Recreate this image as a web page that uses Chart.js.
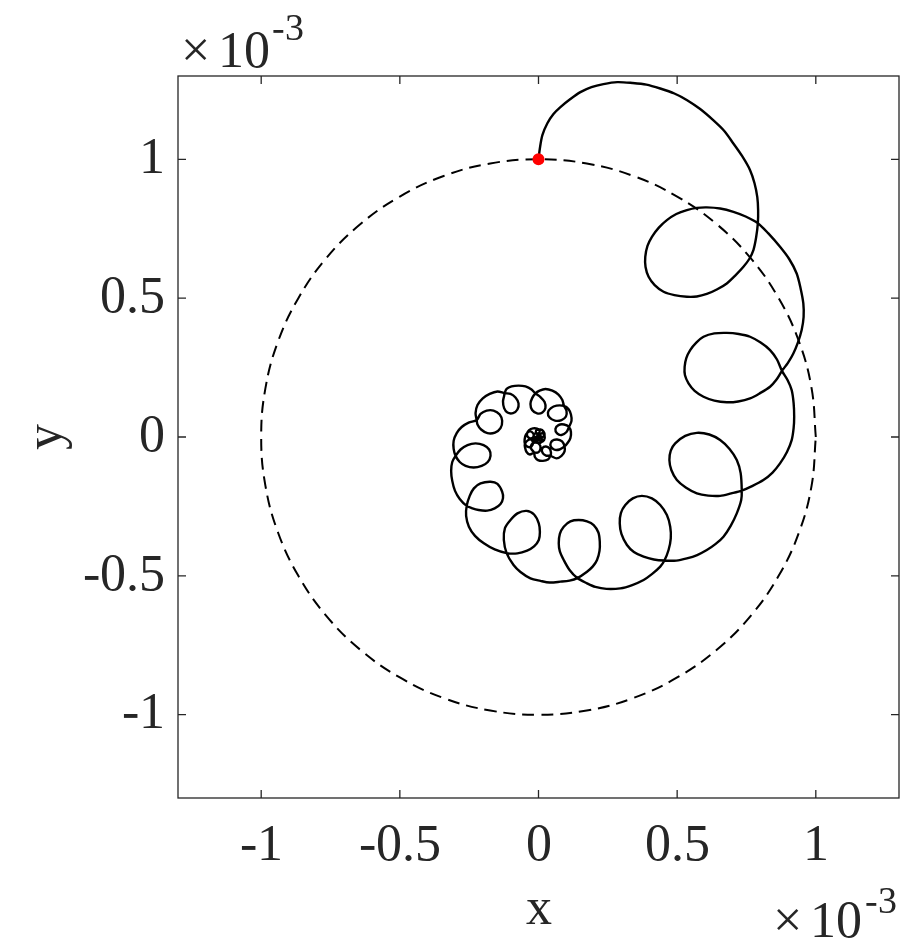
<!DOCTYPE html>
<html>
<head>
<meta charset="utf-8">
<script src="https://cdn.jsdelivr.net/npm/chart.js@4.4.0/dist/chart.umd.min.js"></script>
<style>
@font-face {
  font-family: 'RefSerif';
  src: local('Liberation Serif'), local('LiberationSerif'), local('LiberationSerif-Regular'), local('Times New Roman'), local('TimesNewRomanPSMT');
}
html,body{margin:0;padding:0;background:#ffffff;}
canvas{display:block;}
#probe{position:absolute;left:-9999px;top:0;font:52px RefSerif;}
</style>
</head>
<body>
<span id="probe">0.5 ×10 xy</span>
<canvas id="c" width="900" height="950"></canvas>
<script>
// ---------- data (values in units of 10^-3) ----------
const xTickValues = [-1, -0.5, 0, 0.5, 1];
const yTickValues = [-1, -0.5, 0, 0.5, 1];
const xTickLabels = ['-1', '-0.5', '0', '0.5', '1'];
const yTickLabels = ['-1', '-0.5', '0', '0.5', '1'];
const xAxisTitle = 'x';
const yAxisTitle = 'y';
const exponentTimes = '\u00d7';
const exponentBase = '10';
const exponentPower = '-3';
const axisRange = [-1.3, 1.3];

// reference circle (radius 1)
const circleX = [1, 0.985, 0.940, 0.866, 0.766, 0.643, 0.5, 0.342, 0.174, 0, -0.174, -0.342, -0.5, -0.643, -0.766, -0.866, -0.940, -0.985, -1, -0.985, -0.940, -0.866, -0.766, -0.643, -0.5, -0.342, -0.174, 0, 0.174, 0.342, 0.5, 0.643, 0.766, 0.866, 0.940, 0.985, 1];
const circleY = [0, 0.174, 0.342, 0.5, 0.643, 0.766, 0.866, 0.940, 0.985, 1, 0.985, 0.940, 0.866, 0.766, 0.643, 0.5, 0.342, 0.174, 0, -0.174, -0.342, -0.5, -0.643, -0.766, -0.866, -0.940, -0.985, -1, -0.985, -0.940, -0.866, -0.766, -0.643, -0.5, -0.342, -0.174, 0];

// trajectory
const pathX = [
 0, 0.005, 0.014, 0.032, 0.054, 0.079, 0.115, 0.151, 0.191, 0.234, 0.284, 0.338, 0.389, 0.439, 0.490, 0.536, 0.583, 0.630, 0.670, 0.702, 0.734, 0.763, 0.779, 0.789, 0.792, 0.791,
 0.785, 0.775, 0.760, 0.739, 0.711, 0.679, 0.643, 0.607, 0.571, 0.535, 0.490, 0.451, 0.419, 0.397, 0.386, 0.385, 0.393, 0.409, 0.434, 0.463, 0.497, 0.535, 0.571, 0.607, 0.655, 0.703, 0.747, 0.791,
 0.828, 0.871, 0.904, 0.931, 0.945, 0.955, 0.956, 0.949, 0.936, 0.919, 0.900, 0.878,
 0.857, 0.835, 0.799, 0.763, 0.720, 0.679, 0.634, 0.595, 0.563, 0.541, 0.528, 0.527, 0.533, 0.547, 0.569, 0.595, 0.634, 0.679, 0.722, 0.763, 0.801, 0.835, 0.860, 0.878,
 0.898, 0.913, 0.920, 0.922, 0.920, 0.913, 0.896, 0.871, 0.844, 0.811, 0.772, 0.733,
 0.695, 0.655, 0.612, 0.571, 0.531, 0.499, 0.479, 0.472, 0.477, 0.493, 0.529, 0.571, 0.616, 0.655, 0.689, 0.715, 0.729, 0.733,
 0.731, 0.715, 0.693, 0.667, 0.639, 0.607, 0.572, 0.535, 0.497, 0.454,
 0.416, 0.379, 0.344, 0.319, 0.299, 0.293, 0.297, 0.313, 0.340, 0.373, 0.409, 0.439, 0.463, 0.475, 0.477, 0.469, 0.454,
 0.439, 0.410, 0.379, 0.338, 0.295, 0.245, 0.205, 0.175, 0.140,
 0.112, 0.091, 0.077, 0.073, 0.077, 0.091, 0.115, 0.145, 0.175, 0.199, 0.216, 0.221, 0.220, 0.211, 0.196, 0.175, 0.140,
 0.112, 0.079, 0.040, 0.007, -0.029, -0.065, -0.090, -0.115,
 -0.125, -0.121, -0.101, -0.076, -0.043, -0.016, 0.001, 0.005, 0.001, -0.016, -0.041, -0.076, -0.115,
 -0.158, -0.197, -0.229, -0.251, -0.261, -0.259,
 -0.248, -0.233, -0.209, -0.173, -0.148, -0.131, -0.128, -0.137, -0.158, -0.185, -0.216, -0.241, -0.259,
 -0.284, -0.301, -0.311, -0.315, -0.311, -0.299,
 -0.281, -0.256, -0.227, -0.198, -0.178, -0.173, -0.183, -0.205, -0.234, -0.263, -0.284, -0.299,
 -0.306, -0.306, -0.295, -0.277, -0.252, -0.223,
 -0.209, -0.187, -0.162, -0.140, -0.131, -0.137, -0.157, -0.184, -0.207, -0.220, -0.223,
 -0.227, -0.220, -0.201, -0.176, -0.148, -0.122,
 -0.101, -0.083, -0.072, -0.076, -0.092, -0.112, -0.124, -0.128, -0.124, -0.122,
 -0.115, -0.097, -0.072, -0.047, -0.025, -0.011,
 0.007, 0.022, 0.025, 0.014, -0.005, -0.023, -0.029, -0.023, -0.011,
 0.004, 0.025, 0.050, 0.072, 0.086, 0.092,
 0.101, 0.099, 0.083, 0.059, 0.040, 0.034, 0.045, 0.065, 0.092,
 0.108, 0.117, 0.119, 0.110,
 0.101, 0.083, 0.067, 0.061, 0.072, 0.092, 0.110,
 0.117, 0.115, 0.106, 0.094,
 0.076, 0.056, 0.043, 0.049, 0.067, 0.085, 0.094,
 0.094, 0.083, 0.065, 0.043,
 0.027, 0.014, 0.014, 0.027, 0.040, 0.045, 0.043,
 0.034, 0.016, -0.002, -0.013, -0.016,
 -0.027, -0.025, -0.011, 0.004, 0.007, -0.002, -0.016,
 -0.031, -0.043, -0.049,
 -0.049, -0.040, -0.027, -0.020, -0.025, -0.038, -0.049,
 -0.050, -0.045,
 -0.032, -0.020, -0.018, -0.029, -0.040, -0.041, -0.034, -0.020,
 -0.005, 0.004, 0.000, -0.009, -0.007, 0.007, 0.018, 0.022, 0.013, 0.005, 0.013, 0.022, 0.020, 0.009, 0.004, 0.011, 0.013, 0.002, -0.011, -0.005, -0.002, -0.014, -0.020, -0.011, -0.011, -0.018, -0.014, -0.005, -0.004, 0.000, 0.007, 0.005, -0.004, -0.007, -0.002, 0.002, 0.000
];
const pathY = [
 1.000, 1.040, 1.087, 1.130, 1.163, 1.188, 1.217, 1.242, 1.260, 1.271, 1.278, 1.275, 1.269, 1.255, 1.237, 1.213, 1.181, 1.141, 1.102, 1.058, 1.012, 0.961, 0.914, 0.864, 0.817, 0.770,
 0.720, 0.673, 0.641, 0.613, 0.583, 0.553, 0.531, 0.515, 0.506, 0.505, 0.511, 0.523, 0.547, 0.577, 0.612, 0.649, 0.688, 0.721, 0.754, 0.781, 0.803, 0.817, 0.825, 0.827, 0.823, 0.811, 0.794, 0.770,
 0.734, 0.685, 0.641, 0.589, 0.536, 0.481, 0.432, 0.385, 0.342, 0.301, 0.268, 0.238,
 0.205, 0.181, 0.158, 0.139, 0.128, 0.125, 0.131, 0.145, 0.166, 0.193, 0.223, 0.253, 0.284, 0.313, 0.340, 0.361, 0.373, 0.375, 0.371, 0.361, 0.340, 0.313, 0.279, 0.238,
 0.205, 0.169, 0.122, 0.073, 0.032, -0.011, -0.054, -0.095, -0.128, -0.155, -0.176, -0.193,
 -0.203, -0.212, -0.211, -0.203, -0.182, -0.155, -0.119, -0.083, -0.049, -0.023, 0.004, 0.015, 0.009, -0.011, -0.043, -0.083, -0.130, -0.193,
 -0.227, -0.275, -0.320, -0.359, -0.385, -0.407, -0.425, -0.437, -0.445, -0.445,
 -0.441, -0.431, -0.414, -0.389, -0.349, -0.311, -0.274, -0.245, -0.221, -0.212, -0.221, -0.245, -0.281, -0.323, -0.365, -0.407, -0.445,
 -0.467, -0.493, -0.515, -0.533, -0.545, -0.547, -0.540, -0.527, -0.508,
 -0.479, -0.443, -0.412, -0.383, -0.349, -0.323, -0.304, -0.299, -0.304, -0.317, -0.344, -0.377, -0.410, -0.443, -0.466, -0.485, -0.508,
 -0.517, -0.521, -0.524, -0.518, -0.509, -0.486, -0.461, -0.418,
 -0.371, -0.328, -0.299, -0.275, -0.266, -0.279, -0.311, -0.342, -0.371, -0.394, -0.409, -0.419, -0.418,
 -0.405, -0.383, -0.356, -0.323, -0.284, -0.248,
 -0.212, -0.185, -0.167, -0.161, -0.169, -0.197, -0.220, -0.241, -0.257, -0.265, -0.263, -0.256, -0.248,
 -0.223, -0.194, -0.158, -0.122, -0.090, -0.068,
 -0.045, -0.029, -0.023, -0.029, -0.045, -0.068, -0.090, -0.104, -0.110, -0.104, -0.090, -0.068,
 -0.043, -0.014, 0.014, 0.036, 0.052, 0.061,
 0.083, 0.095, 0.095, 0.081, 0.058, 0.032, 0.016, 0.014, 0.027, 0.045, 0.061,
 0.086, 0.115, 0.139, 0.155, 0.164, 0.158,
 0.155, 0.142, 0.121, 0.099, 0.086, 0.088, 0.104, 0.128, 0.148, 0.158,
 0.173, 0.182, 0.185, 0.182, 0.171, 0.157,
 0.144, 0.126, 0.104, 0.088, 0.085, 0.097, 0.119, 0.140, 0.157,
 0.167, 0.173, 0.167, 0.153, 0.133, 0.112,
 0.094, 0.074, 0.061, 0.059, 0.070, 0.088, 0.104, 0.113, 0.112,
 0.101, 0.081, 0.058, 0.036,
 0.018, 0.007, 0.013, 0.029, 0.043, 0.045, 0.036,
 0.018, -0.004, -0.020, -0.034,
 -0.045, -0.045, -0.031, -0.014, -0.009, -0.016, -0.034,
 -0.052, -0.068, -0.077, -0.068,
 -0.067, -0.056, -0.040, -0.034, -0.041, -0.056, -0.068,
 -0.081, -0.086, -0.083, -0.072, -0.056,
 -0.041, -0.027, -0.020, -0.027, -0.043, -0.056, -0.056,
 -0.063, -0.054, -0.036,
 -0.025, -0.013, -0.009, -0.020, -0.034, -0.036, -0.025,
 -0.009, 0.009,
 0.020, 0.014, 0.002, -0.005, 0.002, 0.014, 0.025, 0.031,
 0.030, 0.022, 0.013, 0.016, 0.025, 0.027, 0.020, 0.007, 0.000, 0.007, 0.014, 0.004, -0.011, -0.018, -0.009, -0.004, -0.014, -0.022, -0.016, -0.007, -0.014, -0.016, -0.005, 0.000, -0.007, 0.000, 0.011, 0.013, 0.005, 0.011, 0.005, -0.005, -0.007, 0.000, 0.004, -0.002, 0.000
];

// starting point
const startX = [0];
const startY = [1];

// ---------- chart ----------
const toPoints = (xs, ys) => xs.map((v, i) => ({ x: v, y: ys[i] }));
const FONT = "RefSerif, 'Liberation Serif', 'Times New Roman', Times, serif";
const INK = '#262626';
const AREA = { left: 178, right: 899, top: 76, bottom: 798 };

const framePlugin = {
  id: 'frame',
  afterDraw(chart) {
    const { ctx, chartArea: a, scales } = chart;
    const sx = scales.x, sy = scales.y;
    ctx.save();
    ctx.strokeStyle = INK;
    ctx.lineWidth = 1.3;
    ctx.strokeRect(a.left, a.top, a.right - a.left, a.bottom - a.top);
    const tl = 8;
    ctx.beginPath();
    xTickValues.forEach(v => {
      const p = sx.getPixelForValue(v);
      ctx.moveTo(p, a.bottom); ctx.lineTo(p, a.bottom - tl);
      ctx.moveTo(p, a.top); ctx.lineTo(p, a.top + tl);
    });
    yTickValues.forEach(v => {
      const p = sy.getPixelForValue(v);
      ctx.moveTo(a.left, p); ctx.lineTo(a.left + tl, p);
      ctx.moveTo(a.right, p); ctx.lineTo(a.right - tl, p);
    });
    ctx.stroke();

    ctx.fillStyle = INK;
    ctx.font = '52px ' + FONT;
    ctx.textBaseline = 'alphabetic';
    ctx.textAlign = 'center';
    ctx.fillText(xAxisTitle, sx.getPixelForValue(0), 924);
    ctx.save();
    ctx.translate(61, sy.getPixelForValue(0));
    ctx.rotate(-Math.PI / 2);
    ctx.fillText(yAxisTitle, 0, 0);
    ctx.restore();

    ctx.textAlign = 'left';
    const drawExp = (x0, base, rise, gap) => {
      ctx.font = '52px ' + FONT;
      ctx.fillText(exponentTimes, x0, base);
      ctx.fillText(exponentBase, x0 + 37, base);
      ctx.font = '38px ' + FONT;
      ctx.fillText(exponentPower, x0 + gap, base - rise);
    };
    drawExp(181, 67, 27, 91);
    drawExp(773, 937, 24, 92);
    ctx.restore();
  }
};

function draw() {
  if (window.__drawn) return;
  window.__drawn = true;
  const chart = new Chart(document.getElementById('c'), {
    type: 'scatter',
    data: {
      datasets: [
        {
          data: toPoints(startX, startY),
          showLine: false,
          pointRadius: 6,
          pointHoverRadius: 6,
          pointBackgroundColor: '#ff0000',
          pointBorderWidth: 0,
          pointBorderColor: '#ff0000'
        },
        {
          data: toPoints(pathX, pathY),
          showLine: true,
          borderColor: '#000000',
          borderWidth: 2.4,
          pointRadius: 0,
          pointHoverRadius: 0,
          tension: 0.3,
          borderJoinStyle: 'round',
          borderCapStyle: 'round',
          fill: false
        },
        {
          data: toPoints(circleX, circleY),
          showLine: true,
          borderColor: '#000000',
          borderWidth: 2,
          borderDash: [12, 7],
          pointRadius: 0,
          pointHoverRadius: 0,
          tension: 0.4,
          fill: false
        }
      ]
    },
    options: {
      responsive: false,
      animation: false,
      devicePixelRatio: 1,
      events: [],
      layout: { autoPadding: false, padding: { top: AREA.top, right: 900 - AREA.right, left: 0, bottom: 0 } },
      plugins: { legend: { display: false }, tooltip: { enabled: false } },
      scales: {
        x: {
          type: 'linear',
          min: axisRange[0], max: axisRange[1],
          grid: { display: false, drawTicks: false, tickLength: 0 },
          border: { display: false },
          afterBuildTicks: s => { s.ticks = xTickValues.map(v => ({ value: v })); },
          afterFit: s => { s.height = 950 - AREA.bottom; s.paddingLeft = 0; s.paddingRight = 0; },
          ticks: {
            autoSkip: false, maxRotation: 0, minRotation: 0,
            padding: 17,
            color: INK,
            font: { family: FONT, size: 52 },
            callback: (v, i) => xTickLabels[i]
          }
        },
        y: {
          type: 'linear',
          min: axisRange[0], max: axisRange[1],
          grid: { display: false, drawTicks: false, tickLength: 0 },
          border: { display: false },
          afterBuildTicks: s => { s.ticks = yTickValues.map(v => ({ value: v })); },
          afterFit: s => { s.width = AREA.left; s.paddingTop = 0; s.paddingBottom = 0; },
          ticks: {
            autoSkip: false,
            padding: 13,
            color: INK,
            font: { family: FONT, size: 52 },
            callback: (v, i) => yTickLabels[i]
          }
        }
      }
    },
    plugins: [framePlugin]
  });

  // make the plot box land exactly on the intended frame
  for (let k = 0; k < 3; k++) {
    const ca = chart.chartArea;
    const p = chart.options.layout.padding;
    const cur = { left: p.left || 0, right: p.right || 0, top: p.top || 0, bottom: p.bottom || 0 };
    const dl = AREA.left - ca.left, dr = ca.right - AREA.right, dt = AREA.top - ca.top, db = ca.bottom - AREA.bottom;
    if (Math.abs(dl) < 0.3 && Math.abs(dr) < 0.3 && Math.abs(dt) < 0.3 && Math.abs(db) < 0.3) break;
    chart.options.layout.padding = { left: cur.left + dl, right: cur.right + dr, top: cur.top + dt, bottom: cur.bottom + db };
    chart.update();
  }
}

if (document.fonts && document.fonts.load) {
  document.fonts.load('52px RefSerif').then(draw, draw);
  setTimeout(draw, 1500);
} else {
  draw();
}
</script>
</body>
</html>
